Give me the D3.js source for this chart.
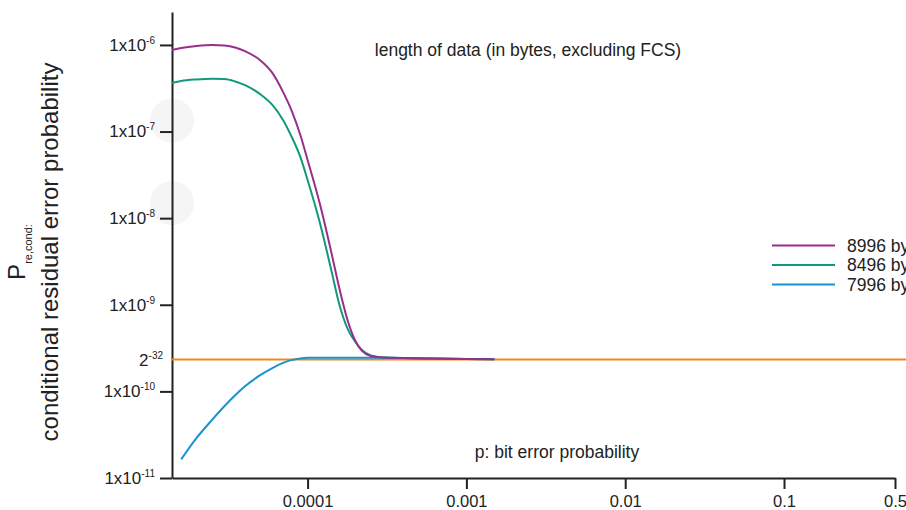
<!DOCTYPE html>
<html>
<head>
<meta charset="utf-8">
<script src="https://cdn.jsdelivr.net/npm/d3@7"></script>
<style>
  body { margin: 0; background: #fff; }
  svg { font-family: "Liberation Sans", Arial, sans-serif; }
</style>
</head>
<body>
<svg></svg>
<script>
var width = 906;
var height = 510;

// bit error probability p (x values)
var pValues = [1.4e-5, 1.6e-5, 2e-5, 2.5e-5, 3e-5, 3.5e-5, 4e-5, 5e-5, 6e-5, 7e-5, 8e-5, 9e-5,
               1e-4, 1.2e-4, 1.4e-4, 1.6e-4, 1.8e-4, 2e-4, 2.2e-4, 2.5e-4, 3e-4, 4e-4, 6e-4, 1e-3, 1.5e-3];

// residual error probability per data length
var p8996 = [8.76e-7, 9.23e-7, 9.74e-7, 1.0e-6, 9.87e-7, 9.36e-7, 8.53e-7, 6.71e-7, 4.75e-7, 2.87e-7, 1.68e-7, 9.13e-8,
             4.70e-8, 1.42e-8, 4.29e-9, 1.44e-9, 6.33e-10, 3.82e-10, 2.93e-10, 2.56e-10, 2.46e-10, 2.43e-10, 2.40e-10, 2.37e-10, 2.35e-10];
var p8496 = [3.64e-7, 3.84e-7, 4.00e-7, 4.08e-7, 4.05e-7, 3.79e-7, 3.45e-7, 2.72e-7, 2.03e-7, 1.36e-7, 8.43e-8, 5.09e-8,
             2.76e-8, 8.57e-9, 2.66e-9, 9.43e-10, 5.12e-10, 3.72e-10, 3.01e-10, 2.60e-10, 2.46e-10, 2.43e-10, 2.40e-10, 2.37e-10, 2.35e-10];
var p7996 = [null, 1.64e-11, 2.90e-11, 4.68e-11, 6.78e-11, 9.04e-11, 1.13e-10, 1.53e-10, 1.86e-10, 2.13e-10, 2.31e-10, 2.40e-10,
             2.44e-10, 2.45e-10, 2.45e-10, 2.45e-10, 2.45e-10, 2.45e-10, 2.45e-10, 2.45e-10, 2.45e-10, 2.43e-10, 2.40e-10, 2.37e-10, 2.35e-10];

// 2^-32 reference line
var refX = [1.4e-5, 0.6];
var refValue = Math.pow(2, -32);

var seriesNames = ['8996 bytes', '8496 bytes', '7996 bytes'];
var seriesColors = ['#9b2d8c', '#11997b', '#1793d3'];
var refColor = '#ef8a1f';

var xTicks = [0.0001, 0.001, 0.01, 0.1, 0.5];
var xTickLabels = ['0.0001', '0.001', '0.01', '0.1', '0.5'];
var yTicks = [1e-6, 1e-7, 1e-8, 1e-9, 1e-10, 1e-11, refValue];
var yTickBase = ['1x10', '1x10', '1x10', '1x10', '1x10', '1x10', '2'];
var yTickExp = ['-6', '-7', '-8', '-9', '-10', '-11', '-32'];

var svg = d3.select('svg')
    .attr('width', width)
    .attr('height', height);

var x = d3.scaleLog()
    .domain([1.4e-5, 0.5])
    .range([172, 895]);

var y = d3.scaleLog()
    .domain([1e-11, 2.4e-6])
    .range([478, 12]);

// faint grey markers on the y axis
svg.selectAll('.ghost')
    .data([1.34e-7, 1.49e-8])
    .enter()
    .append('circle')
        .attr('cx', 172)
        .attr('cy', d => y(d))
        .attr('r', 22)
        .attr('fill', '#f5f5f5');

// axes
var yAxis = d3.axisLeft(y)
    .tickValues(yTicks)
    .tickSize(12)
    .tickSizeOuter(0)
    .tickFormat('');

var gy = svg.append('g')
    .attr('transform', 'translate(172,0)')
    .call(yAxis);

var xAxis = d3.axisBottom(x)
    .tickValues(xTicks)
    .tickSize(11)
    .tickSizeOuter(0)
    .tickFormat((d, i) => xTickLabels[i]);

var gx = svg.append('g')
    .attr('transform', 'translate(0,478)')
    .call(xAxis);

[gx, gy].forEach(g => {
    g.select('.domain').attr('stroke', '#222').attr('stroke-width', 2);
    g.selectAll('.tick line').attr('stroke', '#222').attr('stroke-width', 2);
});

gx.selectAll('.tick text')
    .attr('font-size', 16.5)
    .attr('fill', '#222')
    .attr('y', 17);

// y tick labels with superscripts (2^-32 has no tick mark)
gy.selectAll('.tick text').remove();
gy.selectAll('.tick').each(function(d, i) {
    var isRef = d === refValue;
    if (isRef) d3.select(this).select('line').remove();
    var t = d3.select(this).append('text')
        .attr('x', isRef ? -9 : -17)
        .attr('dy', '0.32em')
        .attr('text-anchor', 'end')
        .attr('fill', '#222')
        .attr('font-size', 17);
    t.append('tspan').text(yTickBase[i]);
    t.append('tspan')
        .attr('font-size', 10)
        .attr('dy', -7)
        .text(yTickExp[i]);
});

// reference line
svg.append('path')
    .datum(refX)
    .attr('fill', 'none')
    .attr('stroke', refColor)
    .attr('stroke-width', 2)
    .attr('d', d3.line().x(d => x(d)).y(() => y(refValue)));

// curves
var allSeries = [p8996, p8496, p7996];
var line = d3.line()
    .defined(d => d[1] != null)
    .x(d => x(d[0]))
    .y(d => y(d[1]))
    .curve(d3.curveMonotoneX);

svg.selectAll('.curve')
    .data(allSeries.slice().reverse())
    .enter()
    .append('path')
        .classed('curve', true)
        .attr('fill', 'none')
        .attr('stroke', (d, i) => seriesColors[2 - i])
        .attr('stroke-width', 2)
        .attr('d', d => line(pValues.map((p, j) => [p, d[j]])));

// legend
var legend = svg.append('g')
    .attr('transform', 'translate(772,245.5)');

legend.selectAll('line')
    .data(seriesNames)
    .enter()
    .append('line')
        .attr('x1', 0)
        .attr('x2', 63)
        .attr('y1', (d, i) => i * 19.5)
        .attr('y2', (d, i) => i * 19.5)
        .attr('stroke', (d, i) => seriesColors[i])
        .attr('stroke-width', 2);

legend.selectAll('text')
    .data(seriesNames)
    .enter()
    .append('text')
        .attr('x', 75)
        .attr('y', (d, i) => i * 19.5)
        .attr('dy', '0.36em')
        .attr('font-size', 17.5)
        .attr('fill', '#222')
        .text(d => d);

// annotations
svg.append('text')
    .attr('x', 528)
    .attr('y', 56)
    .attr('text-anchor', 'middle')
    .attr('font-size', 17.5)
    .attr('fill', '#222')
    .text('length of data (in bytes, excluding FCS)');

svg.append('text')
    .attr('x', 557)
    .attr('y', 458)
    .attr('text-anchor', 'middle')
    .attr('font-size', 17.5)
    .attr('fill', '#222')
    .text('p: bit error probability');

// y axis title
var yTitle = svg.append('g')
    .attr('transform', 'translate(0,252) rotate(-90)');

var t1 = yTitle.append('text')
    .attr('x', 0)
    .attr('y', 25)
    .attr('text-anchor', 'middle')
    .attr('fill', '#222')
    .attr('font-size', 24);
t1.append('tspan').text('P');
t1.append('tspan')
    .attr('font-size', 11)
    .attr('dy', 7)
    .text('re,cond:');

yTitle.append('text')
    .attr('x', 0)
    .attr('y', 58)
    .attr('text-anchor', 'middle')
    .attr('fill', '#222')
    .attr('font-size', 24)
    .text('conditional residual error probability');
</script>
</body>
</html>
